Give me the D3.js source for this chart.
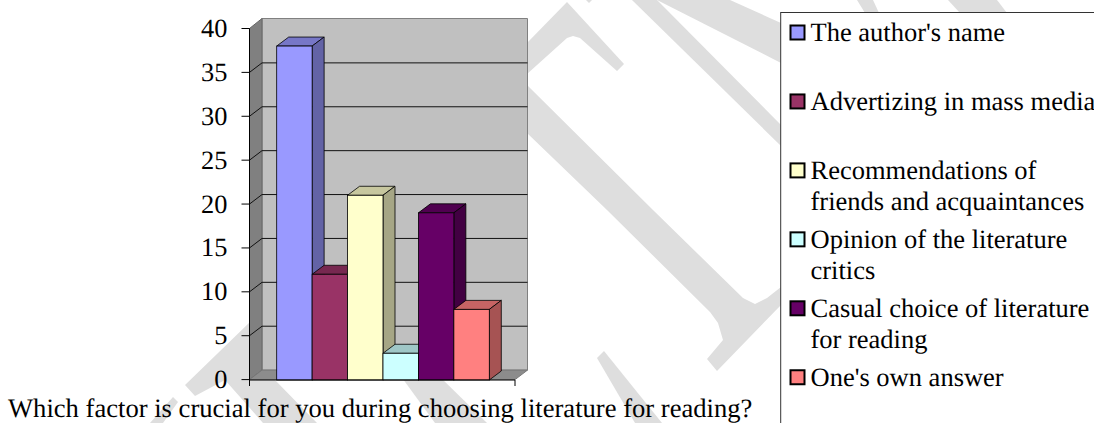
<!DOCTYPE html>
<html><head><meta charset="utf-8">
<script src="https://cdn.jsdelivr.net/npm/d3@7"></script>
<style>html,body{margin:0;padding:0;background:#fff;overflow:hidden}svg{display:block}text{font-family:"Liberation Serif",serif;fill:#000;text-rendering:geometricPrecision}</style>
</head><body>
<svg id="c" width="1094" height="423"></svg>
<script>
const categories = ["The author's name","Advertizing in mass media","Recommendations of friends and acquaintances","Opinion of the literature critics","Casual choice of literature for reading","One's own answer"];
const values = [38,12,21,3,19,8];
const colors = ["#9999ff","#993366","#ffffcc","#ccffff","#660066","#ff8080"];
const yTicks = [0,5,10,15,20,25,30,35,40];
const legendLines = [["The author's name"],["Advertizing in mass media"],["Recommendations of","friends and acquaintances"],["Opinion of the literature","critics"],["Casual choice of literature","for reading"],["One's own answer"]];
const title = "Which factor is crucial for you during choosing literature for reading?";
const watermark = [
 [[527,43],[567,2],[624,64],[617,71],[580,38],[573,36],[567,38],[527,74]],
 [[527,85],[653,210],[743,298],[755,304],[767,298],[781,287],[781,305],[717,371],[707,359],[723,340],[718,323],[710,312],[607,210],[527,133]],
 [[632,0],[657,0],[781,125],[781,146]],
 [[657,0],[730,0],[781,23],[781,63]],
 [[586,0],[589,3],[592,0]],
 [[857,0],[865,13],[879,13],[873,0]],
 [[948,0],[960,13],[1007,13],[997,0]],
 [[250,322],[185,385],[195,396],[225,380],[263,423],[317,423],[275,380],[250,355]],
 [[173,397],[150,423],[163,423],[178,402]],
 [[400,375],[435,423],[487,423],[438,375]],
 [[597,358],[604,351],[662,423],[635,423]]
];

const svg = d3.select("#c");
const pts = p => p.map(d => d.join(",")).join(" ");

svg.append("g").selectAll("polygon").data(watermark).join("polygon")
  .attr("points", pts).attr("fill", "#dedede");

const x0 = 249.5, x1 = 515, dx = 12.5, dy = 9.5;
const y = d3.scaleLinear().domain([0,40]).range([379.6,28.5]);
const x = d3.scaleBand().domain(categories).range([276.7,489.3]).padding(0);
const base = y(0);

// walls
const g = svg.append("g");
g.append("polygon").attr("points", pts([[x0+dx,y(40)-dy-.5],[x1+dx,y(40)-dy-.5],[x1+dx,base-dy],[x0+dx,base-dy]]))
  .attr("fill","#c0c0c0").attr("stroke","#808080");
g.append("polygon").attr("points", pts([[x0,y(40)],[x0+dx,y(40)-dy-.5],[x0+dx,base-dy],[x0,base]]))
  .attr("fill","#808080").attr("stroke","#666");
g.append("polygon").attr("points", pts([[x0,base],[x0+dx,base-dy],[x1+dx,base-dy],[x1,base]]))
  .attr("fill","#8c8c8c").attr("stroke","#777");

// gridlines with wall slants
g.selectAll("path.grid").data(yTicks.slice(1,-1)).join("path").attr("class","grid")
  .attr("d", d => `M${x0},${y(d)}L${x0+dx},${y(d)-dy}L${x1+dx},${y(d)-dy}`)
  .attr("fill","none").attr("stroke","#111").attr("stroke-width",1);

// bars
const tone = (c,k) => { const q = d3.rgb(c); return d3.rgb(q.r*k,q.g*k,q.b*k).formatHex(); };
const bw = x.bandwidth(), bx = 12, by = 9;
const bars = svg.append("g").selectAll("g").data(categories).join("g");
bars.append("polygon").attr("points",(d,i)=>{const l=x(d),t=y(values[i]);return pts([[l,t],[l+bx,t-by],[l+bw+bx,t-by],[l+bw,t]]);})
  .attr("fill",(d,i)=>tone(colors[i],.78)).attr("stroke","#000").attr("stroke-width",.8);
bars.append("polygon").attr("points",(d,i)=>{const l=x(d)+bw,t=y(values[i]);return pts([[l,t],[l+bx,t-by],[l+bx,base+.4-by],[l,base+.4]]);})
  .attr("fill",(d,i)=>tone(colors[i],.65)).attr("stroke","#000").attr("stroke-width",.8);
bars.append("rect").attr("x",d=>x(d)).attr("width",bw).attr("y",(d,i)=>y(values[i]))
  .attr("height",(d,i)=>base+.4-y(values[i]))
  .attr("fill",(d,i)=>colors[i]).attr("stroke","#000").attr("stroke-width",.8);

// axes
const yAxis = d3.axisLeft(y).tickValues(yTicks).tickSize(8).tickPadding(14).offset(0);
const ya = svg.append("g").attr("transform",`translate(${x0},0)`).call(yAxis);
ya.select(".domain").remove();
ya.selectAll("line").attr("stroke","#000");
ya.selectAll("text").style("font-size","26.4px").style("font-family",'"Liberation Serif",serif').attr("fill","#000");
svg.append("path").attr("d",`M${x0},${y(40)}V386M${x0},${base+.4}H${x1}V386`).attr("fill","none").attr("stroke","#000").attr("stroke-width",1);

// title
svg.append("text").attr("x",8).attr("y",417).attr("font-size",26.6).text(title);

// legend
const lg = svg.append("g");
lg.append("rect").attr("x",780.7).attr("y",12.5).attr("width",340).attr("height",440).attr("fill","#fff").attr("stroke","#333").attr("stroke-width",1);
const item = lg.selectAll("g").data(legendLines).join("g").attr("transform",(d,i)=>`translate(0,${41+i*68.95})`);
item.append("rect").attr("x",790.5).attr("y",-15.5).attr("width",14).attr("height",14)
  .attr("fill",(d,i)=>colors[i]).attr("stroke","#000").attr("stroke-width",2);
item.selectAll("text").data(d=>d).join("text").attr("x",810.5).attr("y",(d,i)=>i*31).attr("font-size",26.5).text(d=>d);
</script>
</body></html>
